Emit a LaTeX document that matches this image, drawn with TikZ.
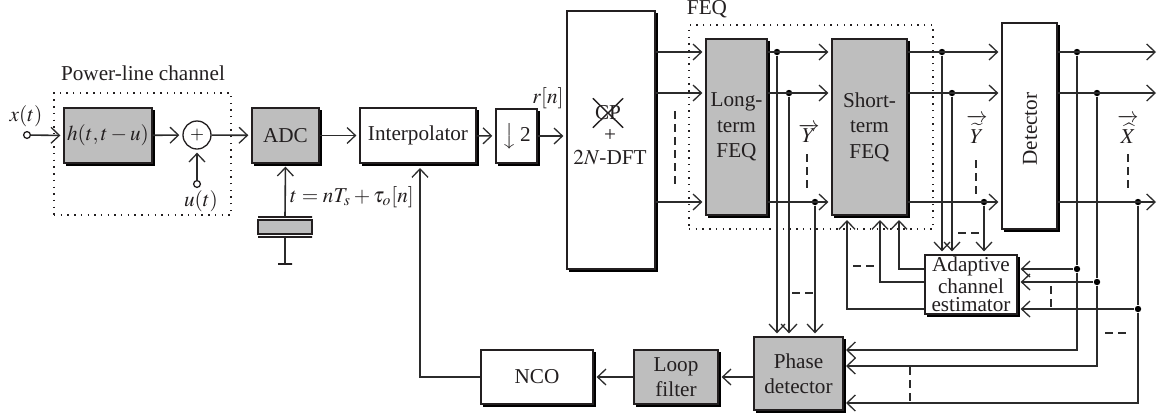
\documentclass[tikz,border=0pt,11pt]{standalone}
\usepackage{mathptmx}
\usepackage[no-math]{fontspec}
\setmainfont{Liberation Serif}
\usepackage{xcolor}
\usetikzlibrary{arrows.meta,positioning,calc,shapes.misc,shadows}
\definecolor{Ink}{HTML}{231F20}
\definecolor{Wire}{HTML}{2B2B2B}
\definecolor{BlockGray}{HTML}{BEBEBE}
\tikzset{
  block/.style={draw=Ink,fill=white,line width=0.65pt,inner sep=0pt,align=center,text=Ink,font=\fontsize{10.6}{12.7}\selectfont,
    copy shadow={draw=black,fill=black,shadow xshift=1.2pt,shadow yshift=-1.2pt}},
  grayblock/.style={block,fill=BlockGray},
  arr/.style={-{Straight Barb[length=4.2pt,width=8pt,line width=0.65pt]},draw=Wire,line width=0.8pt,shorten >=1.5pt},
  wire/.style={draw=Wire,line width=0.8pt},
  dot/.style={circle,fill=black,inner sep=0pt,minimum size=3.2pt},
  port/.style={circle,draw=Ink,fill=white,line width=0.65pt,inner sep=0pt,minimum size=3.4pt},
  plate/.style={draw=Ink,line width=0.65pt,inner sep=0pt,minimum height=0pt},
  dashmark/.style={draw=Wire,line width=0.75pt,dash pattern=on 4pt off 2.5pt},
  dottedbox/.style={draw=Ink,line width=0.7pt,dash pattern=on 0.7pt off 2.65pt,inner sep=0pt},
  lbl/.style={text=Ink,inner sep=0pt,font=\fontsize{10.6}{12.7}\selectfont}
}
\begin{document}
\begin{tikzpicture}[x=0.5pt,y=-0.5pt]
  \useasboundingbox (0,0) rectangle (1157,414);
  % dotted frames
  \node[dottedbox,minimum width=88.5pt,minimum height=61pt] (chan) at (142.5,154) {};
  \node[dottedbox,minimum width=122pt,minimum height=102pt] (feqbox) at (811,127) {};
  \node[lbl] (chanlbl) at (143,73) {Power-line channel};
  \node[lbl] (feqlbl) at (707,9) {FEQ};
  % blocks
  \node[grayblock,minimum width=44pt,minimum height=27.5pt] (chir) at (108,135.5) {$h(t,t-u)$};
  \node[circle,draw=Ink,fill=white,line width=0.65pt,inner sep=0pt,minimum size=14pt,font=\footnotesize] (sum) at (197,135) {$+$};
  \node[grayblock,minimum width=33.5pt,minimum height=27.5pt] (adc) at (285.5,135.5) {ADC};
  \node[block,minimum width=58pt,minimum height=27.5pt] (interp) at (418,135.5) {Interpolator};
  \node[block,minimum width=20.5pt,minimum height=27pt] (down) at (516.5,136) {$\big\downarrow$\,2};
  \node[block,minimum width=44pt,minimum height=129pt] (dft) at (611,140) {};
  \node[cross out,draw=Ink,line width=0.7pt,inner sep=0pt,minimum width=14.5pt,minimum height=14pt,lbl] (cpmark) at (608,113) {CP};
  \node[lbl,align=center] (dftlbl) at (610,147) {+\\[-1pt]$2N$-DFT};
  \node[grayblock,minimum width=30.5pt,minimum height=88pt] (lfeq) at (736.5,127) {Long-\\term\\FEQ};
  \node[grayblock,minimum width=37.5pt,minimum height=88pt] (sfeq) at (869.5,127) {Short-\\term\\FEQ};
  \node[block,minimum width=27.5pt,minimum height=103pt] (det) at (1029.5,126) {};
  \node[lbl,rotate=90] (detlbl) at (1030,129) {Detector};
  \node[block,minimum width=46pt,minimum height=29.5pt,font=\fontsize{10.6}{9.2}\selectfont] (adapt) at (971,284.5) {Adaptive\\channel\\estimator};
  \node[grayblock,minimum width=44.5pt,minimum height=36.5pt] (phase) at (798.5,373.5) {Phase\\detector};
  \node[grayblock,minimum width=42pt,minimum height=27pt] (loop) at (676,377) {Loop\\filter};
  \node[block,minimum width=56pt,minimum height=27pt] (nco) at (537,377) {NCO};
  % crystal
  \node[plate,minimum width=27pt] (ptop) at (285,217) {};
  \node[draw=Ink,fill=BlockGray,line width=0.65pt,inner sep=0pt,minimum width=27pt,minimum height=7pt] (xtal) at (285,227) {};
  \node[plate,minimum width=27pt] (pbot) at (285,237) {};
  \node[plate,minimum width=7pt] (gnd) at (285,264) {};
  % ports and labels
  \node[port] (xin) at (27,135) {};
  \node[port] (uin) at (197,184) {};
  \node[lbl] (xlbl) at (26,116) {$x(t)$};
  \node[lbl] (ulbl) at (201,201) {$u(t)$};
  \node[lbl] (rlbl) at (548,98) {$r[n]$};
  \node[lbl] (tlbl) at (352,197) {$t=nT_s+\tau_o[n]$};
  \node[lbl] (ylbl) at (809,133) {$\overrightarrow{Y}$};
  \node[lbl] (ytlbl) at (977,129) {$\overrightarrow{\rule{0pt}{11.5pt}\widetilde{Y}}$};
  \node[lbl] (xhlbl) at (1128,129) {$\overrightarrow{\rule{0pt}{11.5pt}\widehat{X}}$};
  % rows
  \coordinate (rowa) at (0,52);
  \coordinate (rowb) at (0,93);
  \coordinate (rowc) at (0,202);
  \coordinate (outa) at (1159,52);
  \coordinate (outb) at (1159,93);
  \coordinate (outc) at (1159,202);
  \coordinate (fba) at (899,217);
  \coordinate (fbb) at (880,217);
  \coordinate (fbc) at (847,217);
  \coordinate (pha) at (843,350);
  \coordinate (phb) at (843,366);
  \coordinate (phc) at (843,403);
  \coordinate (nret) at (420,165);
  \node[dot] (la) at (777,52) {};
  \node[dot] (lb) at (789,93) {};
  \node[dot] (lc) at (815,202) {};
  \node[dot] (sa) at (942,52) {};
  \node[dot] (sb) at (952,93) {};
  \node[dot] (sc) at (984,202) {};
  \node[dot] (da) at (1077,52) {};
  \node[dot] (db) at (1097,93) {};
  \node[dot] (dc) at (1138,202) {};
  \node[dot] (ea) at (1077,269) {};
  \node[dot] (eb) at (1097,282) {};
  \node[dot] (ec) at (1138,309) {};
  % left chain
  \draw[arr] (xin) -- (chir.west);
  \draw[arr] (chir) -- (sum);
  \draw[arr] (uin) -- (sum);
  \draw[arr] (sum) -- (adc);
  \draw[arr] (adc) -- (interp);
  \draw[arr] (interp) -- (down);
  \draw[arr] (down) -- (dft.west |- down);
  \draw[arr] (ptop) -- (adc.south);
  \draw[wire] (pbot) -- (gnd);
  % DFT to FEQ
  \foreach \row in {rowa,rowb,rowc}{
    \draw[arr] (dft.east |- \row) -- (lfeq.west |- \row);
    \draw[arr] (lfeq.east |- \row) -- (sfeq.west |- \row);
    \draw[arr] (sfeq.east |- \row) -- (det.west |- \row);
  }
  \draw[arr] (det.east |- outa) -- (outa);
  \draw[arr] (det.east |- outb) -- (outb);
  \draw[arr] (det.east |- outc) -- (outc);
  % estimator
  \foreach \from in {sa,sb,sc}
    \draw[arr] (\from) -- (\from |- adapt.north);
  \draw[arr] (ea) -- (adapt.east |- ea);
  \draw[arr] (eb) -- (adapt.east |- eb);
  \draw[arr] (ec) -- (adapt.east |- ec);
  \draw[arr] (adapt.west |- ea) -| (fba);
  \draw[arr] (adapt.west |- eb) -| (fbb);
  \draw[arr] (adapt.west |- ec) -| (fbc);
  % phase detector
  \foreach \from in {la,lb,lc}
    \draw[arr] (\from) -- (\from |- phase.north);
  \draw[wire] (da) -- (ea);
  \draw[wire] (db) -- (eb);
  \draw[wire] (dc) -- (ec);
  \draw[arr] (ea) |- (pha);
  \draw[arr] (eb) |- (phb);
  \draw[arr] (ec) |- (phc);
  \draw[arr] (phase.west |- loop) -- (loop);
  \draw[arr] (loop) -- (nco);
  \draw[arr] (nco) -| (nret);
  % bus marks
  \foreach \xa/\ya/\xb/\yb in {675/111/675/185,807/154/807/188,976/160/976/194,1128/154/1128/189,1051/286/1051/307,910/367/910/402,958/233/980/233,853/266/875/266,792/293/813/293,1105/333/1127/333}
    \draw[dashmark] (\xa,\ya) -- (\xb,\yb);
\end{tikzpicture}
\end{document}
